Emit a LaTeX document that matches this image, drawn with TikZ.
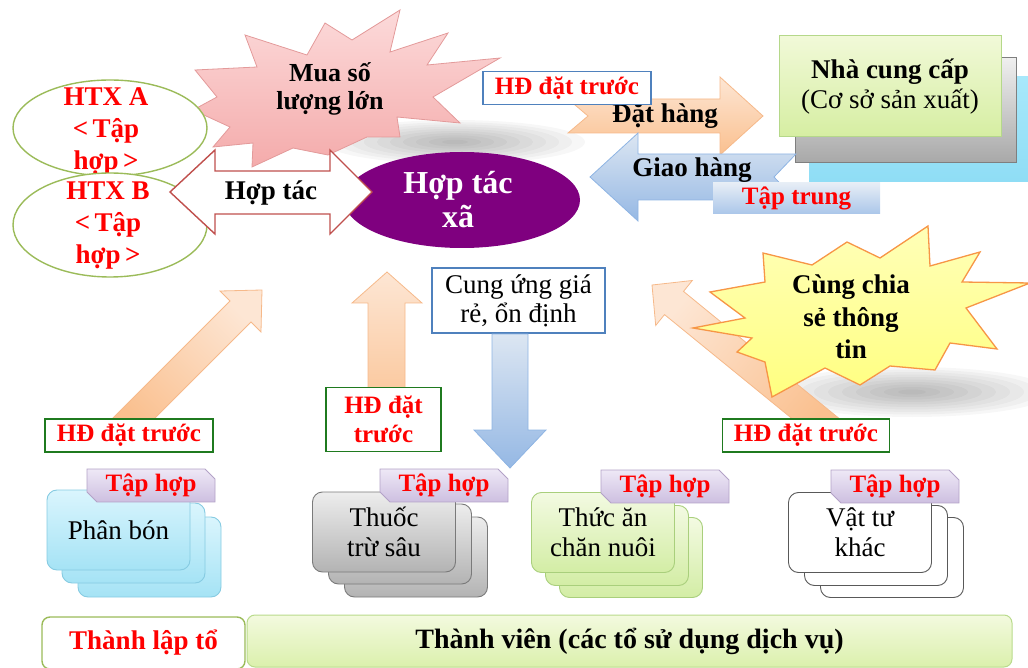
\documentclass[tikz,border=0pt]{standalone}
\usepackage{fontspec}
\setmainfont{Liberation Serif}
\usepackage{xcolor}
\usepackage{tikz}
\usetikzlibrary{shapes.geometric, shapes.misc, positioning, calc}

\definecolor{pinkTop}{HTML}{FCDADA}
\definecolor{pinkBot}{HTML}{F4ABAB}
\definecolor{pinkLine}{HTML}{E39A9A}
\definecolor{yelTop}{HTML}{FFFFB8}
\definecolor{yelBot}{HTML}{FFFF80}
\definecolor{yelLine}{HTML}{F79646}
\definecolor{oraTop}{HTML}{FDE6D4}
\definecolor{oraBot}{HTML}{FAC08F}
\definecolor{oraLine}{HTML}{F6B98A}
\definecolor{bluTop}{HTML}{DCE6F2}
\definecolor{bluBot}{HTML}{95B8E4}
\definecolor{bluLine}{HTML}{8EB4E3}
\definecolor{boxBlue}{HTML}{4F81BD}
\definecolor{hdGreen}{HTML}{1F7A1F}
\definecolor{htxGreen}{HTML}{9BBB59}
\definecolor{coopPurple}{HTML}{7F007F}
\definecolor{arrowRed}{HTML}{C0504D}
\definecolor{supTop}{HTML}{F1F9D8}
\definecolor{supBot}{HTML}{D6EEA2}
\definecolor{supLine}{HTML}{B5D88A}
\definecolor{midTop}{HTML}{EFEFEF}
\definecolor{midBot}{HTML}{A8A8A8}
\definecolor{midLine}{HTML}{7F7F7F}
\definecolor{backTop}{HTML}{A8E8FB}
\definecolor{backBot}{HTML}{8FDDF5}
\definecolor{tabTop}{HTML}{EEE8F6}
\definecolor{tabBot}{HTML}{CDBFE0}
\definecolor{tabLine}{HTML}{B3A2C7}
\definecolor{cyanTop}{HTML}{DAF5FD}
\definecolor{cyanBot}{HTML}{A5E3F5}
\definecolor{cyanLine}{HTML}{86CBE2}
\definecolor{grayTop}{HTML}{EDEDED}
\definecolor{grayBot}{HTML}{B3B3B3}
\definecolor{grayLine}{HTML}{7A7A7A}
\definecolor{greenTop}{HTML}{F3FAE2}
\definecolor{greenBot}{HTML}{D3EDA5}
\definecolor{greenLine}{HTML}{A9CF7C}
\definecolor{barTop}{HTML}{F3FADF}
\definecolor{barBot}{HTML}{DBF0AC}
\definecolor{barLine}{HTML}{B9DB8C}

\newcommand{\szMain}{\fontsize{27}{30}\selectfont}
\newcommand{\szTag}{\fontsize{25}{29}\selectfont}
\newcommand{\szHead}{\fontsize{32}{34}\selectfont}

\begin{document}
\begin{tikzpicture}[x=1pt, y=-1pt,
  lbl/.style     = {font=\szMain, align=center, inner sep=0pt},
  blbl/.style    = {font=\szMain\bfseries, align=center, inner sep=0pt},
  rlbl/.style    = {font=\szMain\bfseries, text=red, align=center, inner sep=0pt},
  shade/.style   = {black, opacity=0.03},
  pinkstar/.style= {draw=pinkLine, line width=0.8pt, top color=pinkTop, bottom color=pinkBot},
  yelstar/.style = {draw=yelLine, line width=1.3pt, top color=yelTop, bottom color=yelBot},
  oarrow/.style  = {draw=oraLine, line width=0.8pt, top color=oraTop, bottom color=oraBot},
  barrow/.style  = {draw=bluLine, line width=0.8pt, top color=bluTop, bottom color=bluBot},
  htxell/.style  = {ellipse, draw=htxGreen, line width=1.4pt, fill=white,
                    minimum width=194pt, inner sep=0pt},
  hdbox/.style   = {rectangle, draw=hdGreen, line width=1.6pt, fill=white,
                    font=\szTag\bfseries, text=red, align=center, inner sep=0pt},
  tagbox/.style  = {chamfered rectangle, chamfered rectangle corners={north east, south west},
                    chamfered rectangle sep=5pt, draw=tabLine, line width=0.8pt,
                    top color=tabTop, bottom color=tabBot,
                    minimum width=128pt, minimum height=25pt, inner sep=0pt,
                    font=\szTag\bfseries, text=red},
  card/.style    = {rectangle, rounded corners=10pt, minimum width=143pt, minimum height=80pt,
                    inner sep=0pt, font=\szMain, align=center, line width=0.9pt},
  cardCyan/.style  = {card, draw=cyanLine, top color=cyanTop, bottom color=cyanBot},
  cardGray/.style  = {card, draw=grayLine, top color=grayTop, bottom color=grayBot},
  cardGreen/.style = {card, draw=greenLine, top color=greenTop, bottom color=greenBot},
  cardWhite/.style = {card, draw=black!65, fill=white}
]
\useasboundingbox (0,0) rectangle (1028,668);

% ── Shadows ─────────────────────────────────────────────────────────────────
\foreach \k in {1,...,10}
  \fill[shade] (455,142) ellipse [x radius=13*\k, y radius=2.2*\k];
\foreach \k in {1,...,10}
  \fill[shade] (912,392) ellipse [x radius=14*\k, y radius=2.5*\k];

% ── Supplier (stacked boxes, right top) ─────────────────────────────────────
\node[rectangle, top color=backTop, bottom color=backBot,
      minimum width=231pt, minimum height=105pt] (supBack) at (924.5,129.5) {};
\node[rectangle, draw=midLine, line width=1pt, top color=midTop, bottom color=midBot,
      minimum width=221pt, minimum height=105pt] (supMid) at (905.5,110.5) {};
\node[rectangle, draw=supLine, line width=1pt, top color=supTop, bottom color=supBot,
      minimum width=222pt, minimum height=101pt, font=\szMain, align=center, inner sep=0pt]
     (sup) at (890,86.5) {\textbf{Nhà cung cấp}\\(Cơ sở sản xuất)};

% ── Buying star ─────────────────────────────────────────────────────────────
\draw[pinkstar] (193,110) -- (217,97) -- (195,70) -- (257,67) -- (245,35) -- (307,55)
  -- (325,23) -- (352,40) -- (400,10) -- (390,52) -- (448,33) -- (427,65) -- (500,58)
  -- (433,97) -- (460,123) -- (397,117) -- (400,137) -- (367,137) -- (328,155)
  -- (293,148) -- (252,167) -- (253,143) -- (213,147) -- (230,127) -- cycle;
\node[font=\fontsize{26}{28}\selectfont\bfseries, align=center, inner sep=0pt]
     (muaTxt) at (330,89) {Mua số\\lượng lớn};

% ── Order / delivery arrows ─────────────────────────────────────────────────
\draw[oarrow] (568,99) -- (720,99) -- (720,77) -- (763,116) -- (720,155)
  -- (720,133) -- (568,133) -- (588,116) -- cycle;
\node[blbl] (datTxt) at (665,116) {Đặt hàng};
\draw[barrow] (796,154) -- (638,154) -- (638,133) -- (590,177) -- (638,221)
  -- (638,200) -- (796,200) -- (774,177) -- cycle;
\node[blbl] (giaoTxt) at (692,170) {Giao hàng};

\node[rectangle, draw=boxBlue, line width=1.5pt, fill=white, minimum width=168pt,
      minimum height=33pt, font=\szTag\bfseries, text=red, inner sep=0pt]
     (hdTop) at (567,88) {HĐ đặt trước};
\node[rectangle, top color=bluTop!70, bottom color=bluBot!80, minimum width=167pt,
      minimum height=31pt, font=\szTag\bfseries, text=red, inner sep=0pt]
     (tapTrung) at (796.5,198.5) {Tập trung};

% ── HTX A / HTX B ───────────────────────────────────────────────────────────
\node[htxell, minimum height=96pt] (htxA) at (110,128) {};
\node[rlbl, font=\fontsize{27}{32}\selectfont\bfseries] (htxAtxt) at (106,131)
     {HTX A\\<\,Tập\\hợp\,>};
\node[htxell, minimum height=104pt] (htxB) at (110,225) {};
\node[rlbl, font=\fontsize{27}{32}\selectfont\bfseries] (htxBtxt) at (108,226)
     {HTX B\\<\,Tập\\hợp\,>};

% ── Cooperative ─────────────────────────────────────────────────────────────
\node[ellipse, fill=coopPurple, minimum width=236pt, minimum height=96pt,
      inner sep=0pt] (coop) at (462,200) {};
\node[font=\szHead\bfseries, text=white, align=center, inner sep=0pt]
     (coopTxt) at (458,200) {Hợp tác\\xã};

\draw[arrowRed, line width=1.4pt, fill=white] (170,192) -- (215,150) -- (215,171)
  -- (330,171) -- (330,150) -- (372,192) -- (330,234) -- (330,214) -- (215,214)
  -- (215,234) -- cycle;
\node[blbl] (hopTxt) at (271,193) {Hợp tác};

% ── Supply box and down arrow ───────────────────────────────────────────────
\node[rectangle, draw=boxBlue, line width=1.5pt, fill=white, minimum width=173pt,
      minimum height=65pt, font=\fontsize{27}{29}\selectfont, align=center, inner sep=0pt]
     (cung) at (518.5,300.5) {Cung ứng giá\\rẻ, ổn định};
\draw[barrow] (492,334) -- (528,334) -- (528,430) -- (546,430) -- (510,468)
  -- (474,430) -- (492,430) -- cycle;

% ── Advance-order arrows ────────────────────────────────────────────────────
\draw[oarrow, shading angle=-45] (101,430) -- (230,301) -- (220,291) -- (262,290)
  -- (261,332) -- (251,322) -- (143,430) -- cycle;
\node[hdbox, minimum width=168pt, minimum height=33pt] (hdLeft) at (129,435.5)
     {HĐ đặt trước};

\draw[oarrow] (368,430) -- (368,303) -- (352,303) -- (387,272) -- (422,303)
  -- (405,303) -- (405,430) -- cycle;
\node[hdbox, minimum width=115pt, minimum height=64pt] (hdMid) at (383.5,419.5)
     {HĐ đặt\\trước};

\draw[oarrow, shading angle=50] (806,430) -- (664.5,314.6) -- (655.7,325.5) -- (652,285)
  -- (692.3,280.5) -- (683.5,291.4) -- (853.2,430) -- cycle;

% ── Sharing star ────────────────────────────────────────────────────────────
\draw[yelstar] (693,328) -- (745,318) -- (710,292) -- (765,282) -- (763,253)
  -- (812,265) -- (847,242) -- (880,258) -- (928,226) -- (930,266) -- (980,252)
  -- (962,282) -- (1030,283) -- (966,308) -- (997,349) -- (950,343) -- (935,370)
  -- (890,366) -- (860,385) -- (825,368) -- (772,397) -- (765,362) -- (737,352)
  -- (752,338) -- cycle;
\node[blbl, font=\fontsize{27}{32.5}\selectfont\bfseries] (chiaTxt) at (851,317)
     {Cùng chia\\sẻ thông\\tin};

\node[hdbox, minimum width=167pt, minimum height=33pt] (hdRight) at (806,435.5)
     {HĐ đặt trước};

% ── Member groups (stacked cards) ───────────────────────────────────────────
\coordinate (cPhan) at (118.5,530);
\foreach \dx/\dy in {31/27, 15/13}
  \node[cardCyan] at ($(cPhan)+(\dx,\dy)$) {};
\node[cardCyan] (phan) at (cPhan) {Phân bón};
\node[tagbox] (tagPhan) at (151,485.5) {Tập hợp};

\coordinate (cThuoc) at (384,532);
\foreach \dx/\dy in {32/25, 16/12}
  \node[cardGray] at ($(cThuoc)+(\dx,\dy)$) {};
\node[cardGray] (thuoc) at (cThuoc) {Thuốc\\trừ sâu};
\node[tagbox] (tagThuoc) at (444,485.5) {Tập hợp};

\coordinate (cThuc) at (603,532.5);
\foreach \dx/\dy in {28/25, 14/13}
  \node[cardGreen] at ($(cThuc)+(\dx,\dy)$) {};
\node[cardGreen] (thuc) at (cThuc) {Thức ăn\\chăn nuôi};
\node[tagbox] (tagThuc) at (665,486.5) {Tập hợp};

\coordinate (cVat) at (860,532.5);
\foreach \dx/\dy in {32/25, 16/13}
  \node[cardWhite] at ($(cVat)+(\dx,\dy)$) {};
\node[cardWhite] (vat) at (cVat) {Vật tư\\khác};
\node[tagbox] (tagVat) at (895,486.5) {Tập hợp};

% ── Bottom bar ──────────────────────────────────────────────────────────────
\node[rectangle, rounded corners=8pt, draw=htxGreen, line width=1.4pt, fill=white,
      minimum width=203pt, minimum height=52pt, font=\szMain\bfseries, text=red,
      inner sep=0pt] (lapTo) at (143.5,643) {Thành lập tổ};
\node[rectangle, rounded corners=8pt, draw=barLine, line width=1pt,
      top color=barTop, bottom color=barBot, minimum width=765pt, minimum height=52pt,
      font=\fontsize{28}{30}\selectfont\bfseries, inner sep=0pt] (vien) at (629.5,641)
     {Thành viên (các tổ sử dụng dịch vụ)};
\end{tikzpicture}
\end{document}
